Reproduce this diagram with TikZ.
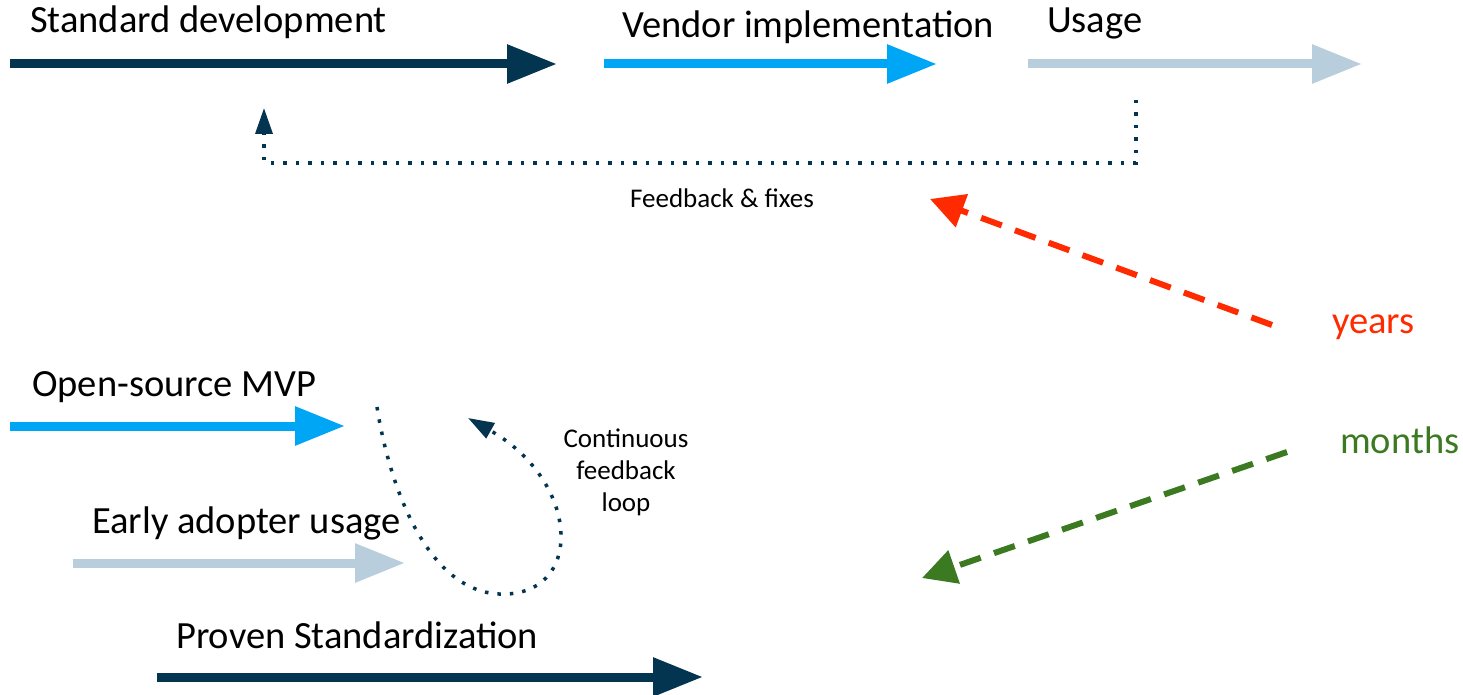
\documentclass[tikz,border=0pt]{standalone}
\usepackage{fontspec}
\setmainfont{Carlito}
\usetikzlibrary{arrows.meta}
\definecolor{navy}{RGB}{4,53,80}
\definecolor{skyblue}{RGB}{0,166,246}
\definecolor{paleblue}{RGB}{185,206,220}
\definecolor{hotred}{RGB}{255,42,0}
\definecolor{leafgreen}{RGB}{60,122,34}
\begin{document}
\begin{tikzpicture}[x=1pt,y=-1pt,
  biglabel/.style={font=\fontsize{38.5}{40}\selectfont, anchor=base west, inner sep=0pt},
  smalllabel/.style={font=\fontsize{27}{32}\selectfont, inner sep=0pt, align=center},
  phase/.style={line width=9pt, -{Triangle[length=50pt,width=37pt]}},
  fbline/.style={navy, line width=3.5pt, dash pattern=on 3.5pt off 9pt, -{Triangle[length=26pt,width=17pt]}},
  timeline/.style={line width=6pt, dash pattern=on 22pt off 14pt, -{Triangle[length=34pt,width=34pt]}}]
\useasboundingbox (0,0) rectangle (1463,695);

% traditional route
\node[biglabel] (std) at (30,33) {Standard development};
\node[biglabel] (vendor) at (622,38) {Vendor implementation};
\node[biglabel] (usage) at (1047,33) {Usage};
\coordinate (s0) at (10,64);   \coordinate (s1) at (557,64);
\coordinate (v0) at (604,64);  \coordinate (v1) at (937,64);
\coordinate (u0) at (1028,64); \coordinate (u1) at (1362,64);
\draw[phase, navy] (s0) -- (s1);
\draw[phase, skyblue] (v0) -- (v1);
\draw[phase, paleblue] (u0) -- (u1);

% feedback path back to the standard
\coordinate (f0) at (1136,100);
\coordinate (f1) at (264,108);
\draw[fbline] (f0) -- (1136,163) -- (264,163) -- (f1);
\node[smalllabel] (fb) at (722,198) {Feedback \& fixes};

% time scales
\node[biglabel, text=hotred] (years) at (1332,333) {years};
\node[biglabel, text=leafgreen] (months) at (1340,453) {months};
\coordinate (y0) at (1272,325); \coordinate (y1) at (930,199);
\coordinate (m0) at (1287,452); \coordinate (m1) at (922,578);
\draw[timeline, hotred] (y0) -- (y1);
\draw[timeline, leafgreen] (m0) -- (m1);

% open-source route
\node[biglabel] (mvp) at (32,396) {Open-source MVP};
\node[biglabel] (early) at (92,533) {Early adopter usage};
\node[biglabel] (proven) at (176,648) {Proven Standardization};
\coordinate (o0) at (10,426);  \coordinate (o1) at (345,426);
\coordinate (e0) at (73,563);  \coordinate (e1) at (405,563);
\coordinate (p0) at (157,677); \coordinate (p1) at (703,677);
\draw[phase, skyblue] (o0) -- (o1);
\draw[phase, paleblue] (e0) -- (e1);
\draw[phase, navy] (p0) -- (p1);

% continuous feedback loop
\coordinate (l0) at (377,407);
\coordinate (l1) at (468,418);
\draw[fbline] (l0) .. controls (390,490) and (430,598) .. (507,594)
  .. controls (585,590) and (578,480) .. (l1);
\node[smalllabel] (loop) at (626,472) {Continuous\\feedback\\loop};
\end{tikzpicture}
\end{document}
